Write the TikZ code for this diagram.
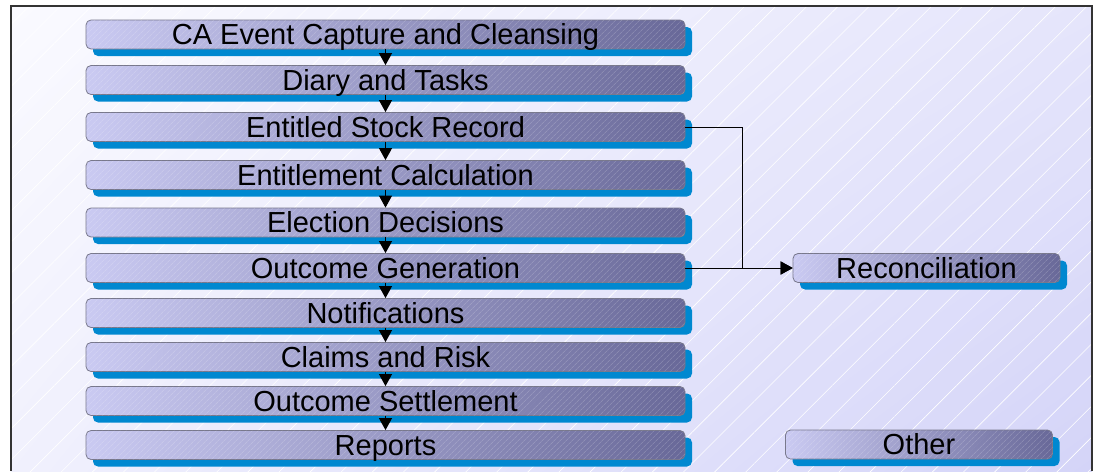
\documentclass[tikz,border=0pt]{standalone}
\usepackage{fontspec}
\setmainfont{Liberation Sans}
\usetikzlibrary{shadows,shadings,patterns.meta,arrows.meta}

\definecolor{boxLight}{RGB}{202,202,242}
\definecolor{boxDark}{RGB}{104,104,152}
\definecolor{boxEdge}{RGB}{120,120,140}
\definecolor{shadowBlue}{RGB}{0,136,208}
\definecolor{bgLight}{RGB}{250,250,255}
\definecolor{bgDark}{RGB}{212,212,248}

\tikzset{
  stage/.style={shape=rectangle,rounded corners=5pt,draw=boxEdge,line width=0.8pt,
    left color=boxLight,right color=boxDark,inner sep=0pt,
    minimum width=599pt,minimum height=29pt,text height=22pt,text depth=2pt,
    font=\fontsize{29}{31}\selectfont,
    drop shadow={shadow xshift=7pt,shadow yshift=-7pt,fill=shadowBlue,opacity=1},
    postaction={fill opacity=0.25,pattern={Lines[angle=45,distance=4pt,line width=0.5pt]},pattern color=white}},
  side/.style={stage,minimum width=267pt},
  flow/.style={line width=1pt,-{Triangle[length=12pt,width=13pt]}}
}

\begin{document}
\begin{tikzpicture}[x=1pt,y=-1pt]
	\useasboundingbox (0,0) rectangle (1097,471);
	% background and frame
	\shade[upper left=bgLight,lower left=bgLight!75!bgDark,upper right=bgLight!45!bgDark,lower right=bgDark] (11,6) rectangle (1092,471);
	\fill[pattern={Lines[angle=45,distance=22pt,line width=0.6pt]},pattern color=white,fill opacity=0.3] (11,6) rectangle (1092,471);
	\draw[black!80,line width=1.2pt] (11,471) -- (11,6) -- (1092,6) -- (1092,471);

	\node[stage] (capture) at (385.5,34.5) {CA Event Capture and Cleansing};
	\node[stage] (diary) at (385.5,80) {Diary and Tasks};
	\node[stage] (stock) at (385.5,127) {Entitled Stock Record};
	\node[stage] (entCalc) at (385.5,175) {Entitlement Calculation};
	\node[stage] (election) at (385.5,222.5) {Election Decisions};
	\node[stage] (outcomeGen) at (385.5,268) {Outcome Generation};
	\node[stage] (notify) at (385.5,313) {Notifications};
	\node[stage] (claims) at (385.5,357) {Claims and Risk};
	\node[stage] (settle) at (385.5,401) {Outcome Settlement};
	\node[stage] (reports) at (385.5,445) {Reports};

	\node[side] (recon) at (926.5,268) {Reconciliation};
	\node[side] (other) at (919,444.5) {Other};

	\coordinate (bend) at (742,268);

	\draw[flow] (capture) -- (diary);
	\draw[flow] (diary) -- (stock);
	\draw[flow] (stock) -- (entCalc);
	\draw[flow] (entCalc) -- (election);
	\draw[flow] (election) -- (outcomeGen);
	\draw[flow] (outcomeGen) -- (notify);
	\draw[flow] (notify) -- (claims);
	\draw[flow] (claims) -- (settle);
	\draw[flow] (settle) -- (reports);
	\draw[flow] (stock.east) -- (stock.east -| bend) -- (bend) -- (recon.west);
	\draw[flow] (outcomeGen.east) -- (recon.west);
\end{tikzpicture}
\end{document}
